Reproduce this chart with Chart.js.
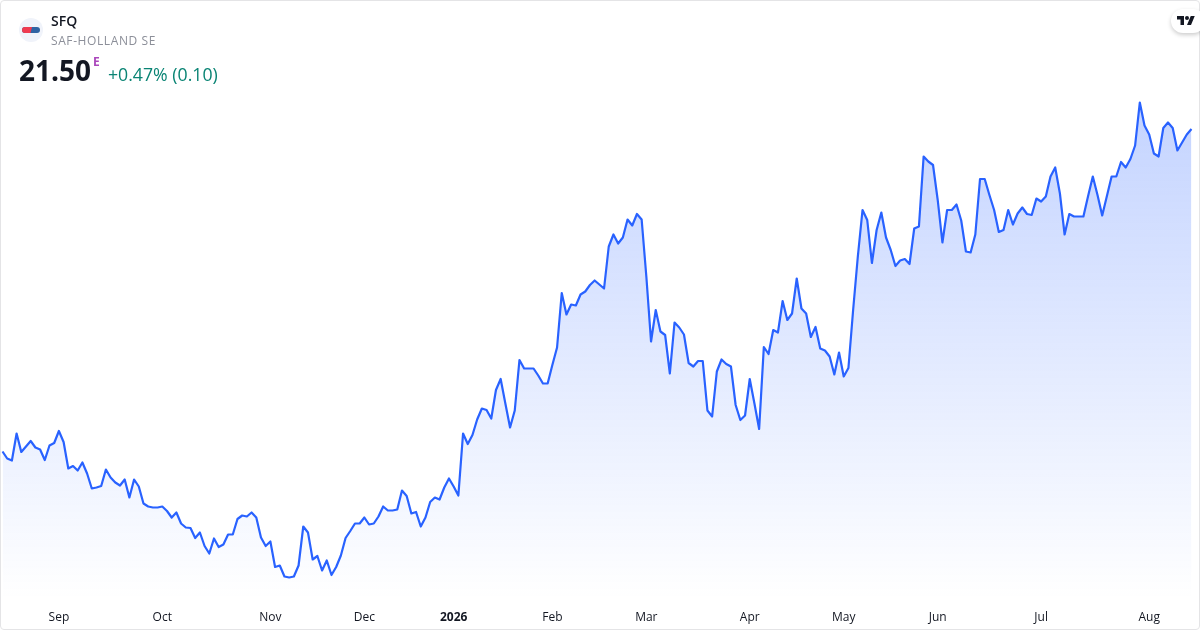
<!DOCTYPE html>
<html>
<head>
<meta charset="utf-8">
<title>SFQ</title>
<script src="https://cdn.jsdelivr.net/npm/chart.js@4/dist/chart.umd.min.js"></script>
<style>
    html, body { margin: 0; padding: 0; background: #fff; }
    body { width: 1200px; height: 630px; overflow: hidden; font-family: "Open Sans", sans-serif; position: relative; }
    #chart { position: absolute; left: 0; top: 0; }
    #frame { position: absolute; left: 0; top: 0; width: 1198px; height: 628px; border: 1px solid #e4e4e6; border-radius: 4px; pointer-events: none; }
    .txt { position: absolute; white-space: nowrap; line-height: 1; }
    #symbol { left: 51px; top: 14px; font-size: 14px; font-weight: 600; color: #131722; }
    #name { left: 51px; top: 35px; font-size: 12px; color: #8c8f99; letter-spacing: 0.6px; }
    #price { left: 19px; top: 56px; font-size: 28px; font-weight: 700; color: #131722; }
    #eflag { left: 93px; top: 56px; font-size: 12px; font-weight: 700; color: #ab47bc; }
    #change { left: 108px; top: 66px; font-size: 17.7px; color: #0a8474; }
    #logo { position: absolute; left: 19px; top: 18px; }
    #tvbadge { position: absolute; left: 1171px; top: 9px; width: 34px; height: 24px; border-radius: 12px; background: #fff; box-shadow: 0 2px 4px rgba(0,0,0,0.2); }
    #tvbadge svg { position: absolute; left: 6px; top: 5px; }
</style>
</head>
<body>
<canvas id="chart" width="1200" height="630"></canvas>
<div id="frame"></div>
<svg id="logo" width="24" height="24" viewBox="0 0 24 24">
    <circle cx="12" cy="12" r="12" fill="#f0f3fa"></circle>
    <rect x="3" y="9" width="18" height="6" rx="3" fill="#2f63a3"></rect>
    <path d="M6 9H13L11.5 15H6a3 3 0 0 1 0-6z" fill="#ef3a50"></path>
</svg>
<div class="txt" id="symbol">SFQ</div>
<div class="txt" id="name">SAF-HOLLAND SE</div>
<div class="txt" id="price">21.50</div>
<div class="txt" id="eflag">E</div>
<div class="txt" id="change">+0.47% (0.10)</div>
<div id="tvbadge">
    <svg width="18" height="12" viewBox="0 0 36 24"><path fill="#131722" d="M14 22H7V11H0V4h14v18zM28 22h-8l7.5-18h8L28 22z"></path><circle fill="#131722" cx="20" cy="8" r="4"></circle></svg>
</div>
<script>
// closing prices
const prices = [
    15.05, 14.91, 14.87, 15.41, 15.04, 15.15, 15.26, 15.13, 15.09, 14.88, 15.17, 15.22, 15.46, 15.24, 14.71, 14.76,
    14.67, 14.83, 14.61, 14.31, 14.33, 14.36, 14.69, 14.53, 14.43, 14.37, 14.49, 14.13, 14.49, 14.35, 14.01, 13.95,
    13.93, 13.93, 13.95, 13.86, 13.73, 13.83, 13.61, 13.53, 13.52, 13.32, 13.43, 13.16, 13.01, 13.31, 13.14, 13.19,
    13.39, 13.39, 13.70, 13.77, 13.75, 13.83, 13.73, 13.33, 13.16, 13.25, 12.74, 12.77, 12.55, 12.53, 12.55, 12.77,
    13.55, 13.43, 12.89, 12.96, 12.67, 12.87, 12.58, 12.74, 12.97, 13.32, 13.46, 13.61, 13.61, 13.73, 13.59, 13.61,
    13.75, 13.95, 13.87, 13.87, 13.89, 14.27, 14.16, 13.81, 13.84, 13.55, 13.73, 14.04, 14.13, 14.09, 14.33, 14.51,
    14.35, 14.17, 15.41, 15.20, 15.38, 15.69,
    15.91, 15.88, 15.71, 16.28, 16.50, 16.01, 15.53, 15.87, 16.88, 16.71, 16.71, 16.71, 16.57, 16.41, 16.41, 16.78,
    17.13, 18.22, 17.79, 17.99, 17.97, 18.19, 18.25, 18.38, 18.47, 18.39, 18.31, 19.15, 19.39, 19.21, 19.33, 19.69,
    19.57, 19.80, 19.69, 18.55, 17.25, 17.88, 17.45, 17.38, 16.61, 17.63, 17.53, 17.39, 16.82, 16.75, 16.86, 16.86,
    15.87, 15.75, 16.65, 16.89, 16.80, 16.75, 15.98, 15.68, 15.77, 16.50, 16.01, 15.50, 17.14, 17.00, 17.48, 17.43,
    18.06, 17.68, 17.81, 18.51, 17.91, 17.81, 17.34, 17.54, 17.11, 17.07, 16.95, 16.59, 17.03, 16.55, 16.72, 17.88,
    18.95, 19.88, 19.68, 18.82, 19.48, 19.83, 19.33, 19.08, 18.76, 18.87, 18.90, 18.80, 19.51, 19.55, 20.95, 20.85,
    20.78, 20.08, 19.23, 19.88, 19.88, 19.99, 19.67, 19.05, 19.03,
    19.39, 20.50, 20.50, 20.18, 19.88, 19.44, 19.48, 19.88, 19.59, 19.81, 19.93, 19.80, 19.78, 20.11, 20.05, 20.15,
    20.55, 20.73, 20.21, 19.39, 19.80, 19.75, 19.75, 19.75, 20.16, 20.55, 20.18, 19.77, 20.16, 20.55, 20.55, 20.84,
    20.73, 20.90, 21.17, 22.03, 21.57, 21.39, 21.01, 20.95, 21.52, 21.63, 21.52, 21.07, 21.23, 21.39, 21.50
];

// position in the series where each time label sits
const tickIndexes = [12, 34, 57, 77, 96, 117, 137, 159, 179, 199, 221, 244];
const tickLabels = ["Sep", "Oct", "Nov", "Dec", "2026", "Feb", "Mar", "Apr", "May", "Jun", "Jul", "Aug"];
const boldLabels = ["2026"];

const yMin = 12.08;
const yMax = 24.08;

function labelAt(index) {
    let pos = tickIndexes.indexOf(index);
    return pos === -1 ? "" : tickLabels[pos];
}

function areaFill(context) {
    let gradient = context.chart.ctx.createLinearGradient(0, 100, 0, 600);
    gradient.addColorStop(0, "rgba(41,98,255,0.28)");
    gradient.addColorStop(1, "rgba(41,98,255,0)");
    return gradient;
}

new Chart(document.getElementById("chart"), {
    type: "line",
    data: {
        labels: prices.map((p, i) => i),
        datasets: [
            {
                data: prices,
                borderColor: "#2962ff",
                borderWidth: 2.2,
                borderJoinStyle: "round",
                backgroundColor: areaFill,
                fill: "start",
                pointRadius: 0,
                tension: 0
            }
        ]
    },
    options: {
        responsive: false,
        animation: false,
        layout: { padding: { left: 2.5, right: 8.5, top: 0, bottom: 0 } },
        plugins: { legend: { display: false }, tooltip: { enabled: false } },
        scales: {
            x: {
                type: "category",
                offset: false,
                grid: { display: false, drawTicks: false },
                border: { display: false },
                afterFit: (scale) => {
                    scale.height = 30;
                    scale.paddingLeft = 0;
                    scale.paddingRight = 0;
                },
                ticks: {
                    autoSkip: false,
                    maxRotation: 0,
                    minRotation: 0,
                    padding: 10,
                    color: "#131722",
                    callback: (value) => labelAt(value),
                    font: (context) => ({
                        family: "'Open Sans', sans-serif",
                        size: 12,
                        weight: boldLabels.includes(labelAt(context.index)) ? "bold" : "normal"
                    })
                }
            },
            y: { display: false, min: yMin, max: yMax }
        }
    }
});
</script>
</body>
</html>
